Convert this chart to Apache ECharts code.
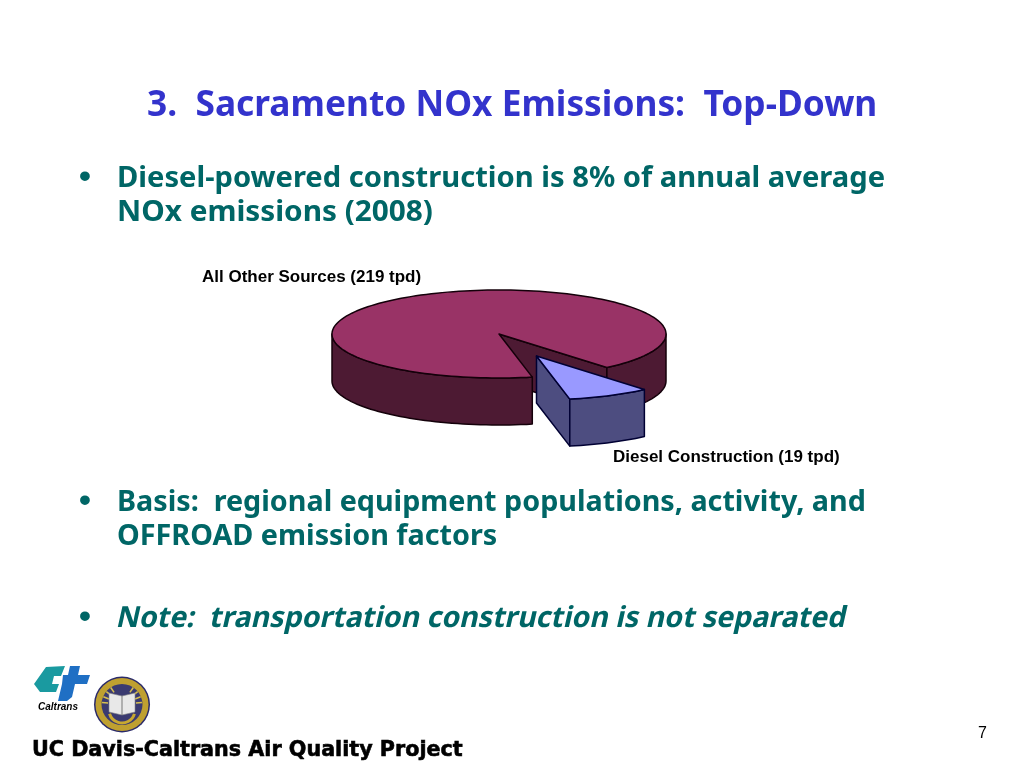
<!DOCTYPE html>
<html><head><meta charset="utf-8">
<style>html,body{margin:0;padding:0;background:#fff}#c{width:1024px;height:768px}</style>
<script src="https://cdn.jsdelivr.net/npm/echarts@6/dist/echarts.min.js"></script>
</head><body><div id="c"></div>
<script>
const categories = ['All Other Sources (219 tpd)', 'Diesel Construction (19 tpd)'];
const tpd = [219, 19];
const titleText = '3.  Sacramento NOx Emissions:  Top-Down';
const bulletLines = ['Diesel-powered construction is 8% of annual average', 'NOx emissions (2008)',
  'Basis:  regional equipment populations, activity, and', 'OFFROAD emission factors'];
const noteText = 'Note:  transportation construction is not separated';
const footerText = 'UC Davis-Caltrans Air Quality Project';
const pageNumber = '7';

// pie geometry
const CX = 499, CY = 334, RX = 167, RY = 44, DEPTH = 47, START = 78.5;
const explode = [[0, 0], [37.5, 22]];
const topFill = ['#993366', '#9999ff'];
const sideFill = ['#4d1a33', '#4d4d80'];
const strokes = ['#14000a', '#000033'];
const labelPos = [[202, 277.5], [613, 457.5]];
const total = tpd.reduce((a, b) => a + b, 0);

function pt(deg, ox, oy, dz) {
  const r = deg * Math.PI / 180;
  return [CX + ox + RX * Math.cos(r), CY + oy + RY * Math.sin(r) + dz];
}
function arc(a0, a1, ox, oy, dz) {
  const out = [];
  const n = Math.max(2, Math.ceil(Math.abs(a1 - a0) / 2));
  for (let i = 0; i <= n; i++) out.push(pt(a0 + (a1 - a0) * i / n, ox, oy, dz));
  return out;
}
function renderSlice(params, api) {
  const i = params.dataIndex;
  const v = api.value(0);
  let before = 0;
  for (let k = 0; k < i; k++) before += tpd[k];
  const a0 = START + before / total * 360, a1 = a0 + v / total * 360;
  const [ox, oy] = explode[i];
  const side = { fill: sideFill[i], stroke: strokes[i], lineWidth: 1.5, lineJoin: 'round' };
  const children = [];
  const apex = [CX + ox, CY + oy];
  const apexLow = [apex[0], apex[1] + DEPTH];
  const face = a => {
    const p = pt(a, ox, oy, 0), q = pt(a, ox, oy, DEPTH);
    children.push({ type: 'polygon', shape: { points: [apex, p, q, apexLow] }, style: side });
  };
  if (Math.cos(a0 * Math.PI / 180) < 0) face(a0);
  if (Math.cos(a1 * Math.PI / 180) > 0) face(a1);
  for (const [lo, hi] of [[0, 180], [360, 540]]) {
    const s = Math.max(a0, lo), e = Math.min(a1, hi);
    if (e > s) {
      const pts = arc(s, e, ox, oy, 0).concat(arc(e, s, ox, oy, DEPTH));
      children.push({ type: 'polygon', shape: { points: pts }, style: side });
    }
  }
  children.push({
    type: 'polygon',
    shape: { points: [apex].concat(arc(a0, a1, ox, oy, 0)) },
    style: { fill: topFill[i], stroke: strokes[i], lineWidth: 1.5, lineJoin: 'round' }
  });
  children.push({
    type: 'text',
    style: { x: labelPos[i][0], y: labelPos[i][1], text: categories[i], fill: '#000',
      font: 'bold 17px "Liberation Sans", Arial, sans-serif', verticalAlign: 'middle', align: 'left' }
  });
  return { type: 'group', children };
}

const bodyFont = 'bold 29px "Noto Sans", sans-serif';
const bulletFont = 'bold 34px "Liberation Sans", sans-serif';
const teal = '#006666';
function txt(x, y, text, font, fill, extra) {
  const st = Object.assign({ x, y, text, font, fill, verticalAlign: 'middle' }, (extra && extra.style) || {});
  const el = Object.assign({ type: 'text', silent: true }, extra || {});
  el.style = st;
  return el;
}
function line(y, text, sx, extra) {
  return txt(0, 0, text, bodyFont, teal, Object.assign({ x: 117, y, scaleX: sx }, extra || {}));
}
const rays = [];
for (let k = -5; k <= 5; k++) {
  if (Math.abs(k) < 2) continue;
  const t = k * 0.3;
  rays.push({ type: 'line', shape: { x1: 122 - Math.sin(t) * 14, y1: 704 - Math.cos(t) * 14, x2: 122 - Math.sin(t) * 20, y2: 704 - Math.cos(t) * 20 }, style: { stroke: '#d8c050', lineWidth: 1.5 } });
}
const graphic = [
  txt(147, 105.5, titleText, 'bold 35.3px "Noto Sans", sans-serif', '#3333cc'),
  txt(79, 178, '•', bulletFont, teal),
  line(178.5, bulletLines[0], 1.005),
  line(212.5, bulletLines[1], 1.026),
  txt(79, 502, '•', bulletFont, teal),
  line(502.5, bulletLines[2], 0.99),
  line(536.5, bulletLines[3], 0.992),
  txt(79, 618, '•', bulletFont, teal),
  line(618.5, noteText, 0.985, { skewX: -0.22 }),
  txt(32, 751, footerText, 'bold 20.7px "DejaVu Sans", sans-serif', '#000', { style: { stroke: '#000', lineWidth: 0.6 } }),
  txt(978, 733.5, pageNumber, '16px "Liberation Sans", sans-serif', '#000'),
  // Caltrans logo
  { type: 'polygon', shape: { points: [[46,667],[65,666],[61,676],[54,676],[52,684],[59,684],[56,692],[40,692],[34,684]] }, style: { fill: '#1a9aa0' } },
  { type: 'polygon', shape: { points: [[70,666],[80,666],[78,675],[90,675],[87,684],[75,684],[72,697],[67,701],[58,701],[62,684],[63,675],[68,675]] }, style: { fill: '#1f6fc4' } },
  txt(38, 707, 'Caltrans', 'italic bold 10px "Liberation Sans", sans-serif', '#000'),
  // UC seal
  { type: 'circle', shape: { cx: 122, cy: 704.5, r: 28 }, style: { fill: '#2a2a6a' } },
  { type: 'circle', shape: { cx: 122, cy: 704.5, r: 26.5 }, style: { fill: '#bfa030' } },
  { type: 'circle', shape: { cx: 122, cy: 704.5, r: 20.5 }, style: { fill: '#3a3a70' } },
  ...rays,
  { type: 'polygon', shape: { points: [[109,693],[122,696],[135,693],[135,712],[122,715],[109,712]] }, style: { fill: '#e8e8e8', stroke: '#888', lineWidth: 0.6 } },
  { type: 'line', shape: { x1: 122, y1: 696, x2: 122, y2: 715 }, style: { stroke: '#777', lineWidth: 1 } },
  { type: 'arc', shape: { cx: 122, cy: 710, r: 13, startAngle: 0.3, endAngle: 2.85 }, style: { stroke: '#c8a830', fill: 'none', lineWidth: 3 } }
];

const chart = echarts.init(document.getElementById('c'), null, { renderer: 'canvas' });
chart.setOption({
  backgroundColor: '#fff',
  animation: false,
  graphic,
  series: [{
    type: 'custom',
    coordinateSystem: 'none',
    renderItem: renderSlice,
    silent: true,
    data: tpd.map((v, i) => ({ name: categories[i], value: [v] }))
  }]
});
</script></body></html>
